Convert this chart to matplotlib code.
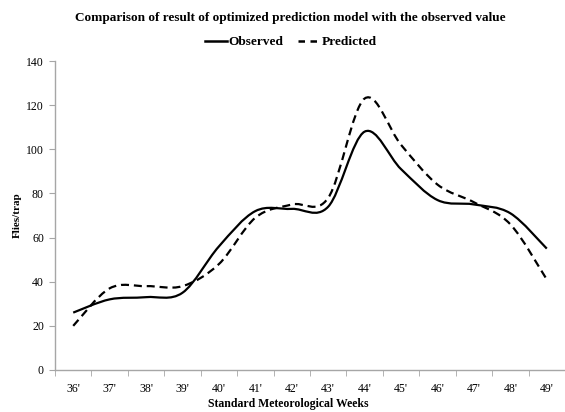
import numpy as np
import matplotlib
matplotlib.use('Agg')
import matplotlib.pyplot as plt
from matplotlib.path import Path
from matplotlib.patches import PathPatch
from matplotlib.lines import Line2D

# data
weeks = ["36'", "37'", "38'", "39'", "40'", "41'", "42'", "43'",
         "44'", "45'", "46'", "47'", "48'", "49'"]
observed = [26, 32, 33, 35, 56, 72, 73, 74, 108, 91, 77, 75, 71, 55]
predicted = [20, 37, 38, 38, 48, 69, 75, 78, 123, 102, 84, 76, 66, 41]

plt.rcParams['font.family'] = 'Liberation Serif'


def smooth_path(ys):
    # excel-like smoothed line: cubic bezier through the points
    pts = np.column_stack([np.arange(len(ys)), np.asarray(ys, float)])
    verts = [pts[0]]
    codes = [Path.MOVETO]
    n = len(pts)
    for i in range(n - 1):
        p0 = pts[max(i - 1, 0)]
        p1 = pts[i]
        p2 = pts[i + 1]
        p3 = pts[min(i + 2, n - 1)]
        c1 = p1 + (p2 - p0) / 6.0
        c2 = p2 - (p3 - p1) / 6.0
        verts += [c1, c2, p2]
        codes += [Path.CURVE4] * 3
    return Path(verts, codes)


fig = plt.figure(figsize=(5.65, 4.12), dpi=100)
ax = fig.add_axes([55 / 565, 42 / 412, 510 / 565, 309 / 412])

ax.add_patch(PathPatch(smooth_path(observed), fill=False, lw=1.6,
                       edgecolor='black', capstyle='butt'))
ax.add_patch(PathPatch(smooth_path(predicted), fill=False, lw=1.6,
                       edgecolor='black', linestyle=(0, (3.6, 2.2)),
                       capstyle='butt'))

ax.set_xlim(-0.5, -0.5 + 510 / 36.8)
ax.set_ylim(0, 140)
ax.set_yticks(range(0, 141, 20))
ax.set_xticks(range(len(weeks)))
ax.set_xticklabels(weeks)
ax.set_xticks(np.arange(len(weeks) + 1) - 0.5, minor=True)
ax.tick_params(axis='x', which='major', length=0, pad=9, labelsize=8.5)
ax.tick_params(axis='x', which='minor', length=4, color='#a6a6a6',
               direction='out')
ax.tick_params(axis='y', length=4, color='#a6a6a6', labelsize=8.5, pad=4)

for s in ['top', 'right']:
    ax.spines[s].set_visible(False)
for s in ['left', 'bottom']:
    ax.spines[s].set_color('#a6a6a6')
    ax.spines[s].set_linewidth(1.0)

ax.set_ylabel('Flies/trap', fontsize=8, fontweight='bold', labelpad=3)
ax.set_xlabel('Standard Meteorological Weeks', fontsize=8.5, fontweight='bold',
              labelpad=6)
ax.xaxis.set_label_coords((288 - 55) / 510, -0.09)

fig.text(290 / 565, 1 - 18 / 412,
         'Comparison of result of optimized prediction model with the observed value',
         ha='center', va='center', fontsize=9.5, fontweight='bold')

handles = [Line2D([], [], color='black', lw=1.8),
           Line2D([], [], color='black', lw=1.8, linestyle=(0, (2.6, 2.2)))]
fig.legend(handles, ['Observed', 'Predicted'], loc='center',
           bbox_to_anchor=(291 / 565, 1 - 42 / 412), ncol=2, frameon=False,
           prop={'weight': 'bold', 'size': 9.6}, handlelength=1.6,
           handletextpad=0.15, columnspacing=1.1)

plt.savefig('out.png', dpi=100)
